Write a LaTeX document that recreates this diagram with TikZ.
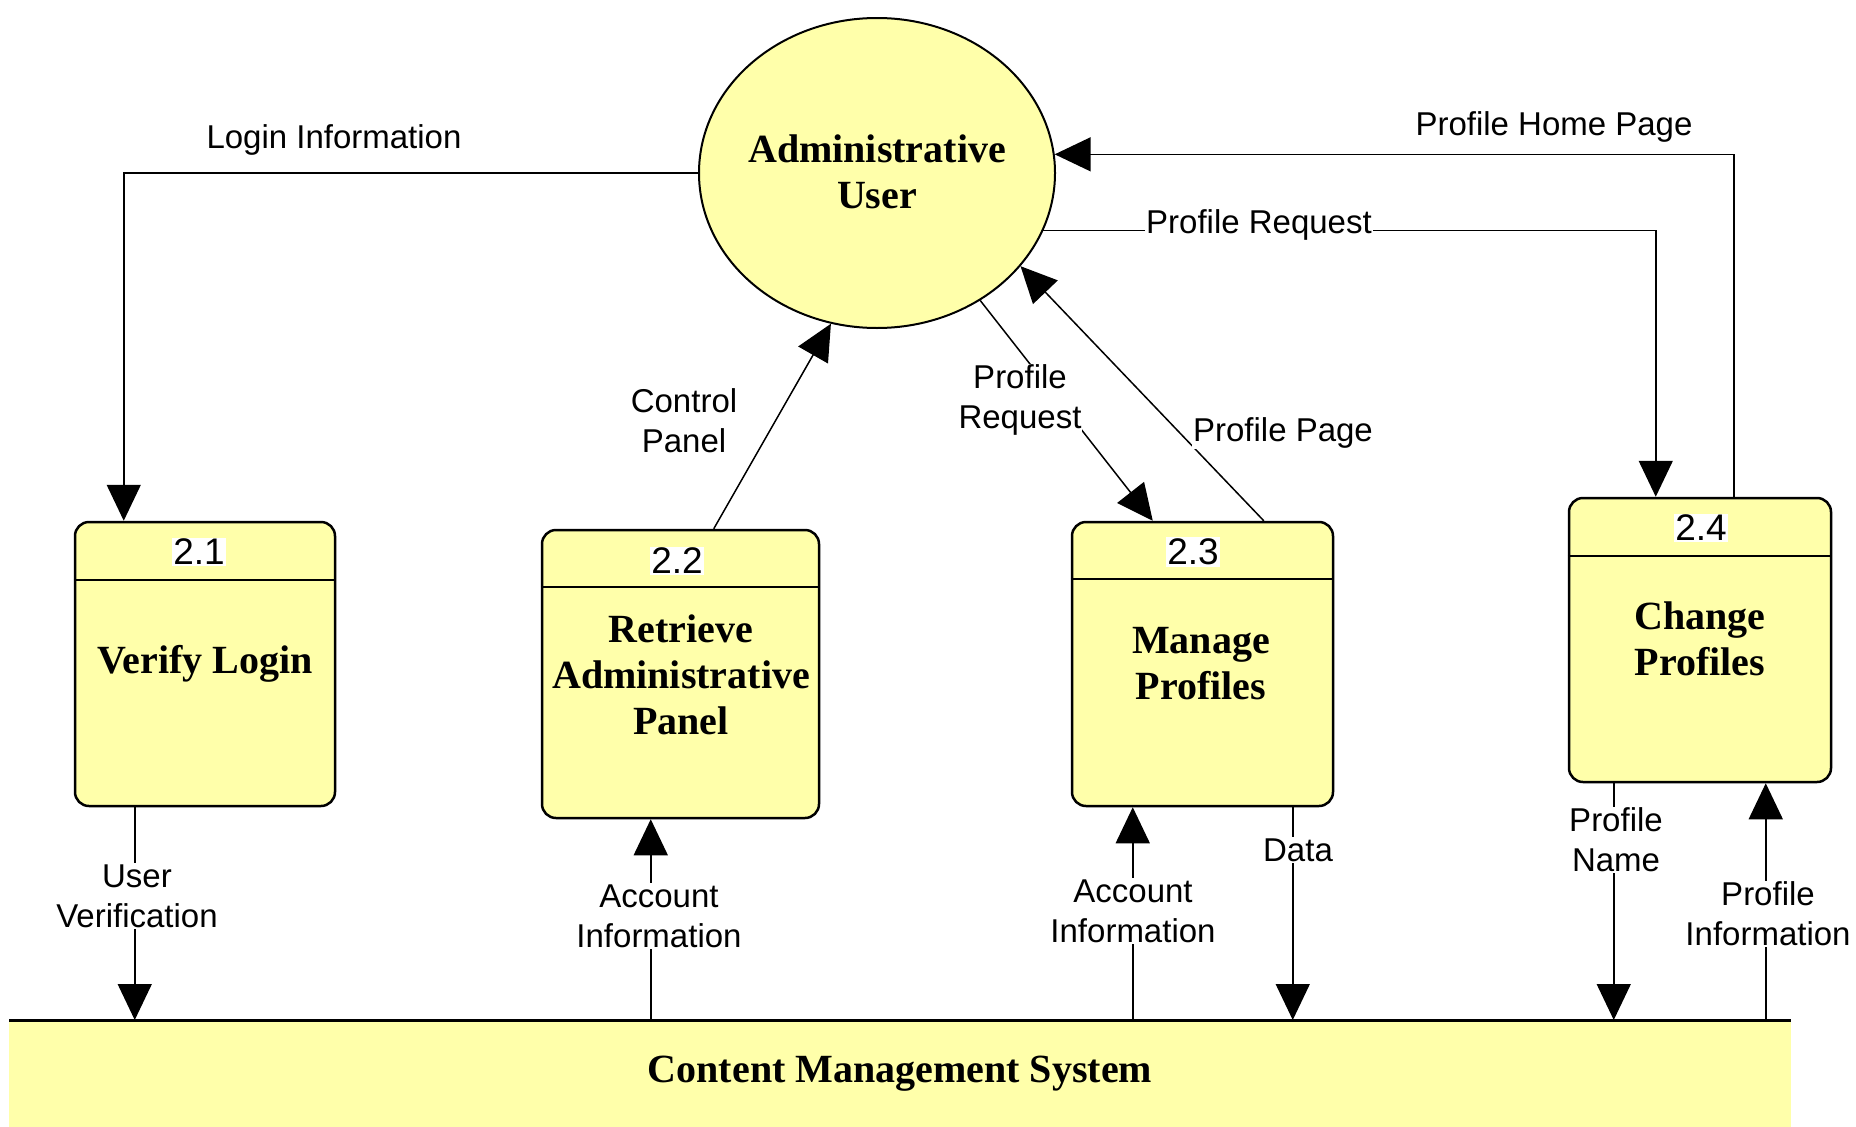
\documentclass[tikz,border=0pt]{standalone}
\usepackage{fontspec}
\setmainfont{Liberation Serif}
\newfontfamily\labfont{Liberation Sans}
\usetikzlibrary{arrows.meta,shapes.geometric,calc}
\definecolor{dfdyellow}{RGB}{255,255,170}
\begin{document}
\begin{tikzpicture}[x=1pt,y=-1pt,
  flow/.style={line width=1.5pt,-{Triangle[length=36pt,width=34pt]}},
  proc/.style={draw,line width=2.5pt,fill=dfdyellow,rounded corners=14pt,inner sep=0pt},
  hdr/.style={line width=2.5pt},
  num/.style={fill=white,inner sep=1.5pt,font=\labfont\fontsize{37}{42}\selectfont},
  boxtext/.style={font=\bfseries\fontsize{40}{46}\selectfont,align=center,inner sep=0pt},
  lab/.style={font=\labfont\fontsize{33}{40}\selectfont,fill=white,inner sep=1pt,align=center}]
\useasboundingbox (0,0) rectangle (1856,1127);
\fill[white] (0,0) rectangle (1856,1127);

% data store
\node[fill=dfdyellow,minimum width=1782pt,minimum height=107pt,inner sep=0pt,anchor=north west] (cms) at (9,1020) {};
\draw[line width=3pt] (cms.north west) -- (cms.north east);
\node[boxtext] (cmst) at (900,1074) {Content Management System};

% external entity
\node[ellipse,draw,line width=2pt,fill=dfdyellow,minimum width=356pt,minimum height=310pt,inner sep=0pt] (au) at (877,173) {};
\node[boxtext] (aut) at (877,172) {Administrative\\User};

% processes
\node[proc,minimum width=260pt,minimum height=284pt] (b1) at (205,664) {};
\node[proc,minimum width=277pt,minimum height=288pt] (b2) at (680.5,674) {};
\node[proc,minimum width=261pt,minimum height=284pt] (b3) at (1202.5,664) {};
\node[proc,minimum width=262pt,minimum height=284pt] (b4) at (1700,640) {};
\draw[hdr] ([yshift=-59pt]b1.north west) -- ([yshift=-59pt]b1.north east);
\draw[hdr] ([yshift=-58pt]b2.north west) -- ([yshift=-58pt]b2.north east);
\draw[hdr] ([yshift=-58pt]b3.north west) -- ([yshift=-58pt]b3.north east);
\draw[hdr] ([yshift=-59pt]b4.north west) -- ([yshift=-59pt]b4.north east);
\node[num] (n1) at (199,552) {2.1};
\node[num] (n2) at (677,561) {2.2};
\node[num] (n3) at (1193,552) {2.3};
\node[num] (n4) at (1701,528) {2.4};
\node[boxtext] (t1) at (205,664) {Verify Login};
\node[boxtext] (t2) at (681,675) {Retrieve\\Administrative\\Panel};
\node[boxtext] (t3) at (1201,664) {Manage\\Profiles};
\node[boxtext] (t4) at (1700,639) {Change\\Profiles};

% top flows
\draw[flow] (au.west) -| ([xshift=50pt]b1.north west);
\draw[flow] ([xshift=166pt]b4.north west) |- (au.6);
\draw[flow] (au.-19) -| ([xshift=88pt]b4.north west);
\draw[flow] ([xshift=173pt]b2.north west) -- (au.-107);
\draw[flow] (au.-51) -- ([xshift=82pt]b3.north west);
\draw[flow] ([xshift=193pt]b3.north west) -- (au.-33);

% bottom flows
\coordinate (p1) at ([xshift=61pt]b1.south west);
\coordinate (p2) at ([xshift=110pt]b2.south west);
\coordinate (p3) at ([xshift=62pt]b3.south west);
\coordinate (p4) at ([xshift=222pt]b3.south west);
\coordinate (p5) at ([xshift=46pt]b4.south west);
\coordinate (p6) at ([xshift=198pt]b4.south west);
\draw[flow] (p1) -- (p1 |- cms.north);
\draw[flow] (p2 |- cms.north) -- (p2);
\draw[flow] (p3 |- cms.north) -- (p3);
\draw[flow] (p4) -- (p4 |- cms.north);
\draw[flow] (p5) -- (p5 |- cms.north);
\draw[flow] (p6 |- cms.north) -- (p6);

% labels
\node[lab] (l1) at (334,140) {Login Information};
\node[lab] (l2) at (1554,127) {Profile Home Page};
\node[lab] (l3) at (1259,225) {Profile Request};
\node[lab] (l4) at (684,421) {Control\\Panel};
\node[lab] (l5) at (1020,400) {Profile\\Request};
\node[lab] (l6) at (1283,433) {Profile Page};
\node[lab] (l7) at (137,896) {User\\Verification};
\node[lab] (l8) at (659,916) {Account\\Information};
\node[lab] (l9) at (1133,911) {Account\\Information};
\node[lab] (l10) at (1298,850) {Data};
\node[lab] (l11) at (1616,840) {Profile\\Name};
\node[lab] (l12) at (1768,914) {Profile\\Information};
\end{tikzpicture}
\end{document}
